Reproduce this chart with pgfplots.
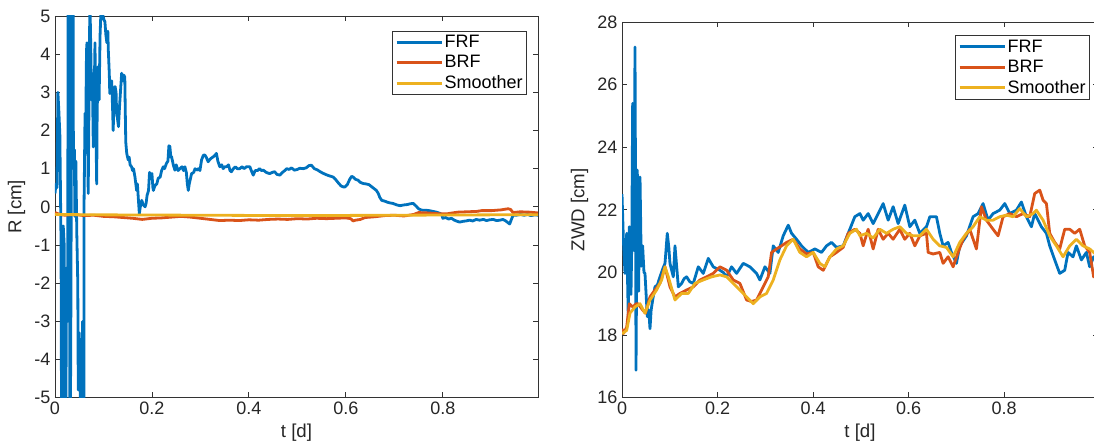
\documentclass[border=0pt]{standalone}
\usepackage{pgfplots}
\pgfplotsset{compat=1.18}
\usepackage{fontspec}
\setmainfont{Liberation Sans}
\definecolor{cfrf}{rgb}{0,0.447,0.741}
\definecolor{cbrf}{rgb}{0.85,0.325,0.098}
\definecolor{csmo}{rgb}{0.929,0.694,0.125}
\pgfplotsset{
  mystyle/.style={
    scale only axis,
    anchor=south west,
    xmin=0, xmax=0.9965,
    xtick={0,0.2,0.4,0.6,0.8},
    tick align=inside,
    major tick length=4pt,
    axis line style={black!80, line width=0.6pt},
    tick style={black!80, line width=0.6pt},
    /pgf/number format/assume math mode=true,
    ticklabel style={font=\fontsize{13.5}{15}\selectfont, text=black!85},
    label style={font=\fontsize{14}{16}\selectfont, text=black!85},
    xlabel={t [d]},
    legend cell align=left,
    legend image code/.code={\draw[##1, line width=2.2pt] (0pt,0pt) -- (34pt,0pt);},
    legend style={anchor=north east, draw=black!80, line width=0.5pt, fill=white,
      font=\fontsize{13.5}{15}\selectfont, inner xsep=2pt, inner ysep=2pt,
      row sep=2.5pt, nodes={inner sep=1pt}},
  },
  pl/.style={line width=2.1pt, line join=round},
}
\begin{document}
\begin{tikzpicture}
\useasboundingbox (0,0) rectangle (820.5pt,335.25pt);
\begin{axis}[mystyle,
  at={(41.25pt,37pt)}, width=362.25pt, height=286.25pt,
  ymin=-5, ymax=5, ytick={-5,-4,...,5},
  ylabel={R [cm]},
  legend style={at={(1,1)}, xshift=-8.25pt, yshift=-11pt},
]
\addplot[cfrf,pl] coordinates {
(0,0.35)(0.002,0.6)(0.004,0.5)(0.006,3.0)(0.008,2.5)(0.010,1.9)(0.0125,-1)(0.014,-8)(0.016,-2)(0.017,-0.5)(0.019,-1)(0.021,-8)(0.023,-4)(0.024,-1.6)(0.026,-3)(0.0275,8)(0.029,8)(0.031,-8)(0.033,-2)(0.035,8)(0.037,8)(0.038,1.0)(0.040,1.5)(0.041,-0.25)(0.043,1.2)(0.045,-0.7)(0.047,-2)(0.048,-4.8)(0.050,-3.3)(0.052,-4.5)(0.054,-8)(0.055,-8)(0.057,-3)(0.058,-8)(0.0595,-8)(0.060,0.15)(0.062,2.45)(0.063,1.5)(0.065,4.1)(0.066,4.3)(0.0685,0.35)(0.070,2.5)(0.072,5.5)(0.074,4)(0.0755,2.8)(0.077,3.5)(0.079,1.57)(0.081,3)(0.0825,4.3)(0.084,2.5)(0.086,0.6)(0.087,2.5)(0.089,3.67)(0.091,2.8)(0.093,4.5)(0.095,5.2)(0.097,5.3)(0.099,5)(0.101,4.9)(0.103,4.85)(0.105,4.5)(0.107,4.3)(0.109,4.6)(0.110,4.1)(0.112,3.5)(0.113,2.97)(0.115,3.2)(0.117,3.3)(0.119,2.5)(0.120,2.0)(0.122,2.8)(0.124,3.15)(0.126,3.0)(0.127,2.5)(0.129,2.3)(0.131,2.1)(0.133,2.6)(0.135,3.0)(0.1375,3.5)(0.140,3.3)(0.142,3.45)(0.144,3.4)(0.145,2.5)(0.146,1.7)(0.148,1.4)(0.151,1.23)(0.153,1.3)(0.155,1.1)(0.158,1.05)(0.160,0.95)(0.162,1.0)(0.165,0.78)(0.1684,0.43)(0.170,0.6)(0.172,0.2)(0.174,-0.18)(0.176,0.0)(0.179,0.17)(0.182,0.05)(0.186,0.0)(0.188,0.1)(0.190,0.3)(0.193,0.43)(0.195,0.9)(0.197,0.85)(0.200,0.87)(0.202,0.5)(0.203,0.43)(0.206,0.55)(0.210,0.6)(0.213,0.75)(0.217,0.78)(0.220,0.95)(0.2234,1.05)(0.226,1.0)(0.230,1.14)(0.233,1.2)(0.235,1.6)(0.237,1.58)(0.239,1.3)(0.2406,1.31)(0.244,1.1)(0.2474,0.96)(0.250,1.1)(0.254,0.95)(0.2577,1.0)(0.262,1.05)(0.265,0.95)(0.268,1.05)(0.271,0.9)(0.273,0.6)(0.275,0.43)(0.277,0.6)(0.2818,0.87)(0.286,0.9)(0.289,1.0)(0.292,0.96)(0.296,1.0)(0.299,0.95)(0.3024,1.23)(0.306,1.35)(0.309,1.36)(0.312,1.3)(0.316,1.18)(0.320,1.25)(0.323,1.28)(0.3265,1.31)(0.330,1.35)(0.333,1.4)(0.336,1.2)(0.340,1.05)(0.344,1.1)(0.347,1.0)(0.350,1.05)(0.354,1.05)(0.358,1.1)(0.361,0.95)(0.364,0.92)(0.368,1.0)(0.372,1.05)(0.376,1.0)(0.381,1.0)(0.386,1.05)(0.390,1.0)(0.395,1.05)(0.402,1.05)(0.405,0.95)(0.409,0.83)(0.413,0.95)(0.418,0.95)(0.422,1.0)(0.426,0.95)(0.430,0.96)(0.436,0.9)(0.443,0.87)(0.448,0.9)(0.453,0.92)(0.458,0.85)(0.464,0.83)(0.469,0.9)(0.474,0.95)(0.478,1.0)(0.483,0.98)(0.488,1.02)(0.494,0.96)(0.500,0.98)(0.505,1.01)(0.512,1.0)(0.518,1.02)(0.524,1.08)(0.529,1.09)(0.535,1.0)(0.541,0.97)(0.547,0.92)(0.553,0.88)(0.558,0.85)(0.564,0.82)(0.569,0.8)(0.574,0.78)(0.580,0.7)(0.585,0.62)(0.590,0.55)(0.595,0.52)(0.598,0.52)(0.603,0.58)(0.608,0.72)(0.612,0.8)(0.615,0.78)(0.620,0.72)(0.625,0.7)(0.630,0.64)(0.636,0.61)(0.642,0.6)(0.648,0.58)(0.654,0.52)(0.658,0.48)(0.663,0.43)(0.667,0.35)(0.670,0.25)(0.674,0.17)(0.680,0.15)(0.686,0.12)(0.692,0.1)(0.697,0.09)(0.705,0.05)(0.712,0.03)(0.720,0.05)(0.727,0.06)(0.733,0.08)(0.739,0.09)(0.745,0.02)(0.750,-0.05)(0.755,-0.08)(0.759,-0.09)(0.766,-0.09)(0.772,-0.1)(0.780,-0.12)(0.787,-0.14)(0.794,-0.17)(0.798,-0.2)(0.800,-0.3)(0.806,-0.28)(0.812,-0.32)(0.818,-0.3)(0.824,-0.35)(0.830,-0.38)(0.835,-0.4)(0.842,-0.38)(0.848,-0.37)(0.855,-0.35)(0.862,-0.37)(0.869,-0.33)(0.876,-0.35)(0.884,-0.33)(0.890,-0.36)(0.897,-0.34)(0.904,-0.33)(0.911,-0.36)(0.918,-0.35)(0.924,-0.33)(0.930,-0.37)(0.935,-0.42)(0.938,-0.45)(0.941,-0.35)(0.945,-0.22)(0.952,-0.22)(0.960,-0.2)(0.968,-0.22)(0.975,-0.2)(0.982,-0.23)(0.990,-0.21)(0.9965,-0.22)
};
\addlegendentry{FRF}
\addplot[cbrf,pl] coordinates {
(0,-0.15)(0.01,-0.2)(0.02,-0.22)(0.04,-0.2)(0.06,-0.23)(0.08,-0.22)(0.10,-0.25)(0.12,-0.26)(0.14,-0.28)(0.16,-0.3)(0.18,-0.33)(0.20,-0.3)(0.22,-0.29)(0.24,-0.27)(0.26,-0.25)(0.28,-0.27)(0.30,-0.3)(0.32,-0.33)(0.34,-0.36)(0.36,-0.35)(0.38,-0.36)(0.40,-0.34)(0.42,-0.35)(0.44,-0.33)(0.46,-0.32)(0.48,-0.33)(0.50,-0.31)(0.52,-0.32)(0.54,-0.3)(0.56,-0.31)(0.58,-0.3)(0.60,-0.29)(0.61,-0.31)(0.615,-0.37)(0.62,-0.35)(0.63,-0.33)(0.64,-0.28)(0.66,-0.26)(0.68,-0.23)(0.70,-0.22)(0.72,-0.24)(0.74,-0.2)(0.75,-0.15)(0.77,-0.16)(0.79,-0.18)(0.81,-0.18)(0.83,-0.14)(0.85,-0.13)(0.87,-0.12)(0.88,-0.1)(0.90,-0.1)(0.92,-0.08)(0.935,-0.05)(0.94,-0.07)(0.945,-0.15)(0.96,-0.13)(0.98,-0.14)(0.9965,-0.16)
};
\addlegendentry{BRF}
\addplot[csmo,pl] coordinates {
(0,-0.2)(0.1,-0.21)(0.3,-0.22)(0.5,-0.23)(0.7,-0.22)(0.9,-0.21)(0.9965,-0.21)
};
\addlegendentry{Smoother}
\end{axis}

\begin{axis}[mystyle,
  at={(466.5pt,37pt)}, width=357pt, height=281.75pt,
  ymin=16, ymax=28, ytick={16,18,...,28},
  ylabel={ZWD [cm]},
  legend style={at={(1,1)}, xshift=-6pt, yshift=-10pt},
]
\addplot[cfrf,pl] coordinates {
(0,22.5)(0.003,21.0)(0.0063,19.97)(0.0098,21.25)(0.0132,18.48)(0.0153,21.46)(0.0188,19.3)(0.0205,21.0)(0.0223,25.4)(0.024,24.5)(0.0251,20.7)(0.0272,27.2)(0.0285,22.0)(0.0293,16.88)(0.031,21.0)(0.032,23.27)(0.0335,21.5)(0.0349,19.4)(0.0365,22.5)(0.0377,23.05)(0.0404,20.2)(0.0432,20.85)(0.046,20.0)(0.0481,19.97)(0.053,18.59)(0.056,18.8)(0.0586,18.2)(0.061,18.8)(0.0642,19.12)(0.069,19.54)(0.074,19.6)(0.0795,19.86)(0.085,20.1)(0.09,20.29)(0.0948,21.25)(0.098,20.8)(0.1004,20.29)(0.1074,19.86)(0.1109,20.85)(0.1179,19.54)(0.1248,19.65)(0.13,19.8)(0.1353,19.86)(0.142,19.7)(0.1492,19.65)(0.1597,20.18)(0.1701,19.97)(0.1806,20.45)(0.191,20.18)(0.205,20.07)(0.212,20.0)(0.219,19.86)(0.2294,20.18)(0.2399,19.97)(0.2538,20.29)(0.2678,20.18)(0.2817,19.97)(0.2887,19.76)(0.2992,20.18)(0.3096,19.97)(0.3166,20.85)(0.327,20.64)(0.3375,21.17)(0.348,21.51)(0.355,21.25)(0.3654,21.06)(0.3759,20.85)(0.3898,20.64)(0.4038,20.75)(0.4177,20.64)(0.4282,20.85)(0.4386,20.96)(0.4491,20.8)(0.463,20.85)(0.477,21.38)(0.4874,21.78)(0.498,21.88)(0.5049,21.67)(0.5153,21.88)(0.5258,21.56)(0.5363,21.88)(0.5467,22.2)(0.5572,21.67)(0.5676,22.1)(0.5781,21.56)(0.592,22.15)(0.6025,21.46)(0.613,21.67)(0.6234,21.25)(0.6374,21.46)(0.6444,21.78)(0.6583,21.78)(0.6653,21.25)(0.6722,20.85)(0.6827,20.96)(0.6897,20.64)(0.7001,20.29)(0.7071,20.85)(0.7211,21.17)(0.735,21.78)(0.7455,21.88)(0.7559,22.2)(0.7664,21.67)(0.7768,21.88)(0.7908,21.99)(0.8013,22.2)(0.8117,21.88)(0.8257,21.99)(0.8361,22.25)(0.8466,21.78)(0.8571,21.46)(0.864,21.88)(0.878,21.46)(0.8885,21.25)(0.8954,20.85)(0.9059,20.4)(0.9163,19.97)(0.9268,20.07)(0.9338,20.64)(0.9442,20.5)(0.9512,20.85)(0.9617,20.4)(0.9721,20.64)(0.9791,20.18)(0.9874,20.5)(0.9965,20.3)
};
\addlegendentry{FRF}
\addplot[cbrf,pl] coordinates {
(0,18.2)(0.003,18.05)(0.0098,18.25)(0.0153,19.0)(0.0223,18.9)(0.03,19.0)(0.0334,19.0)(0.0432,18.8)(0.049,18.7)(0.0586,19.22)(0.069,19.44)(0.0795,19.65)(0.09,20.18)(0.1004,19.54)(0.1109,19.22)(0.1213,19.33)(0.1353,19.44)(0.1492,19.54)(0.1632,19.76)(0.1771,19.86)(0.191,19.97)(0.205,20.18)(0.219,20.07)(0.2329,19.76)(0.2468,19.65)(0.2608,19.12)(0.2713,19.07)(0.2817,19.12)(0.2887,19.33)(0.2992,19.65)(0.3061,19.86)(0.3131,20.64)(0.3235,20.75)(0.334,20.85)(0.3445,20.96)(0.3584,21.06)(0.3724,20.75)(0.3863,20.59)(0.4003,20.64)(0.4108,20.18)(0.4212,20.07)(0.4352,20.5)(0.4491,20.64)(0.463,20.8)(0.4735,21.25)(0.4874,21.38)(0.498,21.25)(0.5049,20.85)(0.5153,21.38)(0.5258,20.75)(0.5363,21.38)(0.5467,21.06)(0.5572,21.25)(0.5676,21.06)(0.5816,21.38)(0.592,21.06)(0.6025,21.25)(0.613,20.85)(0.6234,21.17)(0.6374,21.25)(0.6409,20.64)(0.6513,20.59)(0.6653,20.64)(0.6722,20.29)(0.6827,20.5)(0.6932,20.18)(0.7036,20.64)(0.7141,21.06)(0.728,21.38)(0.742,20.75)(0.7524,22.1)(0.7629,21.67)(0.7768,21.38)(0.7873,21.17)(0.7978,21.78)(0.8117,21.88)(0.8257,21.78)(0.8396,21.88)(0.8536,21.78)(0.864,22.52)(0.8745,22.63)(0.8815,22.31)(0.8885,22.2)(0.8954,21.25)(0.9059,20.96)(0.9163,20.75)(0.9268,21.38)(0.9373,21.38)(0.9477,21.25)(0.9582,21.38)(0.9686,20.85)(0.9791,20.64)(0.9874,19.86)(0.9965,19.9)
};
\addlegendentry{BRF}
\addplot[csmo,pl] coordinates {
(0,18.04)(0.0098,18.15)(0.0167,18.7)(0.0272,18.9)(0.0377,19.0)(0.0481,18.7)(0.0586,19.12)(0.0725,19.44)(0.083,19.76)(0.09,20.18)(0.097,19.86)(0.1109,19.12)(0.1248,19.33)(0.1388,19.33)(0.1527,19.65)(0.1701,19.76)(0.1875,19.86)(0.205,19.92)(0.219,19.86)(0.2329,19.65)(0.2468,19.44)(0.2608,19.22)(0.2747,19.0)(0.2887,19.22)(0.3026,19.33)(0.3166,19.76)(0.3305,20.4)(0.3445,20.85)(0.3584,21.06)(0.3724,20.64)(0.3863,20.5)(0.4003,20.64)(0.4142,20.29)(0.4247,20.18)(0.4352,20.5)(0.4491,20.75)(0.463,20.85)(0.477,21.25)(0.4909,21.38)(0.498,21.17)(0.512,21.25)(0.5258,21.1)(0.5398,21.38)(0.5537,21.25)(0.5676,21.38)(0.5816,21.46)(0.5955,21.25)(0.6095,21.17)(0.6234,21.17)(0.6374,21.38)(0.6513,21.06)(0.6653,20.85)(0.6792,20.8)(0.6932,20.5)(0.7071,20.96)(0.721,21.25)(0.735,21.46)(0.7489,21.78)(0.7629,21.67)(0.7768,21.67)(0.7908,21.78)(0.8047,21.83)(0.8187,21.78)(0.8326,22.04)(0.8466,21.78)(0.8606,21.88)(0.8675,21.99)(0.8815,21.67)(0.8954,21.17)(0.9094,20.85)(0.9233,20.5)(0.9373,20.85)(0.9512,21.06)(0.9652,20.85)(0.9791,20.75)(0.9874,20.64)(0.9965,20.5)
};
\addlegendentry{Smoother}
\end{axis}
\end{tikzpicture}
\end{document}
